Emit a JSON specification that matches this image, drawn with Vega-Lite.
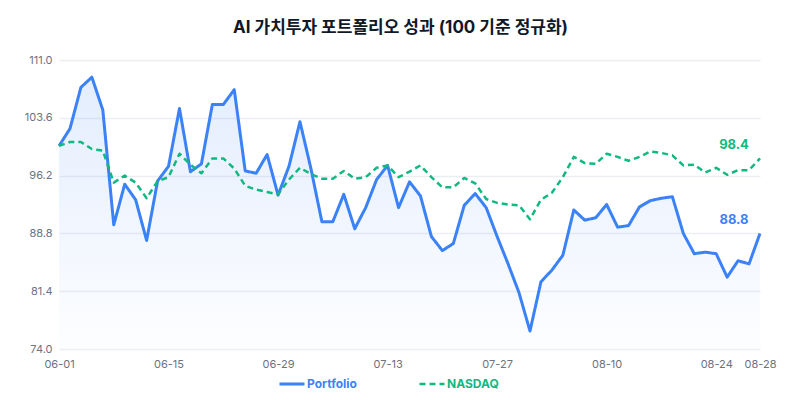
{
  "$schema": "https://vega.github.io/schema/vega-lite/v6.json",
  "autosize": {"type": "none"},
  "width": 701,
  "height": 289,
  "padding": {"left": 59, "top": 60, "right": 40, "bottom": 51},
  "background": "white",
  "title": {
    "text": "AI 가치투자 포트폴리오 성과 (100 기준 정규화)",
    "font": "Inter, Noto Sans CJK KR",
    "fontSize": 17,
    "fontWeight": "bold",
    "color": "#111827",
    "anchor": "middle",
    "frame": "group",
    "dx": -9,
    "offset": 17
  },
  "data": {
    "values": [
      {"date": "06-01", "Portfolio": 100.0, "NASDAQ": 100.0},
      {"date": "06-02", "Portfolio": 102.2, "NASDAQ": 100.5},
      {"date": "06-03", "Portfolio": 107.5, "NASDAQ": 100.5},
      {"date": "06-04", "Portfolio": 108.8, "NASDAQ": 99.6},
      {"date": "06-05", "Portfolio": 104.6, "NASDAQ": 99.4},
      {"date": "06-08", "Portfolio": 89.9, "NASDAQ": 95.3},
      {"date": "06-09", "Portfolio": 95.1, "NASDAQ": 96.2},
      {"date": "06-10", "Portfolio": 93.1, "NASDAQ": 95.3},
      {"date": "06-11", "Portfolio": 87.9, "NASDAQ": 93.3},
      {"date": "06-12", "Portfolio": 95.5, "NASDAQ": 95.5},
      {"date": "06-15", "Portfolio": 97.4, "NASDAQ": 96.0},
      {"date": "06-16", "Portfolio": 104.8, "NASDAQ": 99.0},
      {"date": "06-17", "Portfolio": 96.7, "NASDAQ": 97.6},
      {"date": "06-18", "Portfolio": 97.7, "NASDAQ": 96.5},
      {"date": "06-19", "Portfolio": 105.3, "NASDAQ": 98.4},
      {"date": "06-22", "Portfolio": 105.3, "NASDAQ": 98.4},
      {"date": "06-23", "Portfolio": 107.2, "NASDAQ": 97.1},
      {"date": "06-24", "Portfolio": 96.8, "NASDAQ": 94.9},
      {"date": "06-25", "Portfolio": 96.5, "NASDAQ": 94.4},
      {"date": "06-26", "Portfolio": 98.9, "NASDAQ": 94.1},
      {"date": "06-29", "Portfolio": 93.7, "NASDAQ": 93.8},
      {"date": "06-30", "Portfolio": 97.4, "NASDAQ": 95.7},
      {"date": "07-01", "Portfolio": 103.1, "NASDAQ": 97.2},
      {"date": "07-02", "Portfolio": 97.1, "NASDAQ": 96.4},
      {"date": "07-03", "Portfolio": 90.3, "NASDAQ": 95.8},
      {"date": "07-06", "Portfolio": 90.3, "NASDAQ": 95.8},
      {"date": "07-07", "Portfolio": 93.8, "NASDAQ": 96.8},
      {"date": "07-08", "Portfolio": 89.4, "NASDAQ": 95.8},
      {"date": "07-09", "Portfolio": 92.1, "NASDAQ": 96.0},
      {"date": "07-10", "Portfolio": 95.7, "NASDAQ": 97.2},
      {"date": "07-13", "Portfolio": 97.5, "NASDAQ": 97.5},
      {"date": "07-14", "Portfolio": 92.1, "NASDAQ": 96.0},
      {"date": "07-15", "Portfolio": 95.4, "NASDAQ": 96.7},
      {"date": "07-16", "Portfolio": 93.6, "NASDAQ": 97.5},
      {"date": "07-17", "Portfolio": 88.4, "NASDAQ": 96.0},
      {"date": "07-20", "Portfolio": 86.6, "NASDAQ": 94.7},
      {"date": "07-21", "Portfolio": 87.5, "NASDAQ": 94.7},
      {"date": "07-22", "Portfolio": 92.4, "NASDAQ": 95.9},
      {"date": "07-23", "Portfolio": 93.9, "NASDAQ": 95.2},
      {"date": "07-24", "Portfolio": 92.1, "NASDAQ": 93.2},
      {"date": "07-27", "Portfolio": 88.4, "NASDAQ": 92.7},
      {"date": "07-28", "Portfolio": 84.9, "NASDAQ": 92.5},
      {"date": "07-29", "Portfolio": 81.2, "NASDAQ": 92.4},
      {"date": "07-30", "Portfolio": 76.3, "NASDAQ": 90.6},
      {"date": "07-31", "Portfolio": 82.6, "NASDAQ": 93.1},
      {"date": "08-03", "Portfolio": 84.1, "NASDAQ": 94.0},
      {"date": "08-04", "Portfolio": 86.0, "NASDAQ": 96.0},
      {"date": "08-05", "Portfolio": 91.8, "NASDAQ": 98.6},
      {"date": "08-06", "Portfolio": 90.5, "NASDAQ": 97.8},
      {"date": "08-07", "Portfolio": 90.8, "NASDAQ": 97.7},
      {"date": "08-10", "Portfolio": 92.5, "NASDAQ": 99.0},
      {"date": "08-11", "Portfolio": 89.6, "NASDAQ": 98.6},
      {"date": "08-12", "Portfolio": 89.8, "NASDAQ": 98.1},
      {"date": "08-13", "Portfolio": 92.2, "NASDAQ": 98.6},
      {"date": "08-14", "Portfolio": 93.0, "NASDAQ": 99.3},
      {"date": "08-17", "Portfolio": 93.3, "NASDAQ": 99.1},
      {"date": "08-18", "Portfolio": 93.5, "NASDAQ": 98.8},
      {"date": "08-19", "Portfolio": 88.8, "NASDAQ": 97.5},
      {"date": "08-20", "Portfolio": 86.2, "NASDAQ": 97.6},
      {"date": "08-21", "Portfolio": 86.4, "NASDAQ": 96.6},
      {"date": "08-24", "Portfolio": 86.2, "NASDAQ": 97.2},
      {"date": "08-25", "Portfolio": 83.2, "NASDAQ": 96.3},
      {"date": "08-26", "Portfolio": 85.3, "NASDAQ": 96.9},
      {"date": "08-27", "Portfolio": 84.9, "NASDAQ": 96.9},
      {"date": "08-28", "Portfolio": 88.8, "NASDAQ": 98.4}
    ]
  },
  "transform": [{"fold": ["Portfolio", "NASDAQ"], "as": ["series", "value"]}],
  "encoding": {
    "x": {
      "field": "date",
      "type": "ordinal",
      "sort": null,
      "scale": {"type": "point", "padding": 0},
      "title": null,
      "axis": {
        "values": ["06-01", "06-15", "06-29", "07-13", "07-27", "08-10", "08-24", "08-28"],
        "labelAngle": 0,
        "grid": false,
        "domain": false,
        "ticks": false,
        "labelPadding": 9,
        "labelFont": "Inter",
        "labelFontSize": 11,
        "labelColor": "#6b7280"
      }
    },
    "y": {
      "field": "value",
      "type": "quantitative",
      "scale": {"domain": [74, 111], "nice": false, "zero": false},
      "title": null,
      "axis": {
        "values": [74, 81.4, 88.8, 96.2, 103.6, 111],
        "format": ".1f",
        "grid": true,
        "gridColor": "#eceef2",
        "gridWidth": 1.5,
        "domain": false,
        "ticks": false,
        "labelPadding": 7,
        "labelFont": "Inter",
        "labelFontSize": 11,
        "labelColor": "#6b7280"
      }
    }
  },
  "layer": [
    {
      "transform": [{"filter": "datum.series === 'Portfolio'"}],
      "mark": {
        "type": "area",
        "color": {
          "gradient": "linear",
          "x1": 0, "y1": 0, "x2": 0, "y2": 1,
          "stops": [
            {"offset": 0, "color": "rgba(59,130,246,0.14)"},
            {"offset": 1, "color": "rgba(59,130,246,0.01)"}
          ]
        }
      },
      "encoding": {
        "y2": {"datum": 74}
      }
    },
    {
      "mark": {"type": "line", "strokeJoin": "round"},
      "encoding": {
        "color": {
          "field": "series",
          "type": "nominal",
          "scale": {"domain": ["Portfolio", "NASDAQ"], "range": ["#3b82f6", "#10b981"]},
          "title": null,
          "legend": {
            "orient": "none",
            "legendX": 219,
            "legendY": 310,
            "direction": "horizontal",
            "symbolType": "stroke",
            "symbolSize": 625,
            "symbolStrokeWidth": 3,
            "labelFont": "Inter",
            "labelFontSize": 12,
            "labelFontWeight": "bold",
            "labelOffset": 1,
            "columnPadding": 57,
            "encode": {
              "labels": {
                "update": {
                  "fill": {"signal": "datum.value === 'Portfolio' ? '#3b82f6' : '#10b981'"}
                }
              }
            }
          }
        },
        "strokeDash": {
          "field": "series",
          "type": "nominal",
          "scale": {"domain": ["Portfolio", "NASDAQ"], "range": [[1, 0], [6, 4]]},
          "title": null
        },
        "strokeWidth": {
          "field": "series",
          "type": "nominal",
          "scale": {"domain": ["Portfolio", "NASDAQ"], "range": [3, 2.5]},
          "legend": null
        }
      }
    },
    {
      "transform": [{"filter": "datum.date === '08-28'"}],
      "mark": {
        "type": "text",
        "font": "Inter",
        "fontSize": 13,
        "fontWeight": "bold",
        "dx": -26,
        "dy": -13,
        "baseline": "middle"
      },
      "encoding": {
        "text": {"field": "value", "type": "quantitative", "format": ".1f"},
        "color": {"field": "series", "type": "nominal", "legend": null}
      }
    }
  ],
  "config": {
    "view": {"stroke": null}
  }
}
